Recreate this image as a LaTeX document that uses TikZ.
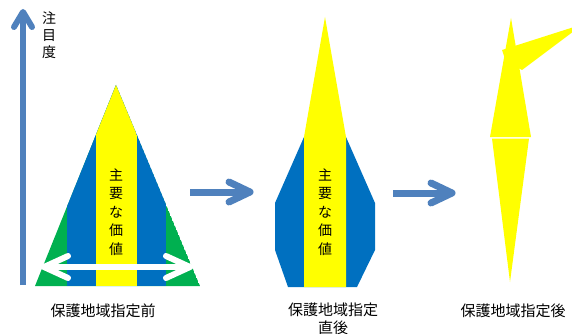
\documentclass[tikz,border=0pt]{standalone}
\usepackage{fontspec}
\newfontfamily\cjk{Noto Sans CJK JP}
\definecolor{cgreen}{HTML}{00B050}
\definecolor{cblue}{HTML}{0070C0}
\definecolor{cyellow}{HTML}{FFFF00}
\definecolor{carrow}{HTML}{4F81BD}
\tikzset{
  bluearrow/.style={draw=carrow, line width=7pt, line cap=round, line join=round},
  whitearrow/.style={draw=white, line width=6pt, line cap=round, line join=round},
  label/.style={font=\cjk\fontsize{15}{18}\selectfont, align=center, inner sep=0pt},
  vlabel/.style={font=\cjk\fontsize{14}{18.5}\selectfont, align=center, inner sep=0pt},
}
\begin{document}
\begin{tikzpicture}[x=1pt,y=-1pt]
\useasboundingbox (0,0) rectangle (572,334);
% axis
\coordinate (axb) at (23,285);
\coordinate (axt) at (23,12);
\draw[draw=carrow, line width=6pt] (axb) -- (axt);
\draw[draw=carrow, line width=6pt, line cap=round, line join=round] (14,27) -- (axt) -- (32,27);
\node[vlabel, font=\cjk\fontsize{14}{17}\selectfont] (axlab) at (49,35) {注\\目\\度};

% left triangle
\begin{scope}
\clip (35,286) -- (116,85) -- (200,286) -- cycle;
\fill[cgreen] (35,286) -- (116,85) -- (200,286) -- cycle;
\fill[cblue] (67,80) rectangle (166,286);
\fill[cyellow] (96,80) rectangle (137,286);
\end{scope}
\node[vlabel] (v1) at (116,212) {主\\要\\な\\価\\値};
% white double arrow
\coordinate (wl) at (44,267);
\coordinate (wr) at (190,267);
\draw[whitearrow] (wl) -- (wr);
\draw[whitearrow] (68,256) -- (wl) -- (68,278);
\draw[whitearrow] (166,256) -- (wr) -- (166,278);
\node[label] (l1) at (103,311) {保護地域指定前};

% arrow 1
\coordinate (a1s) at (190,192);
\coordinate (a1e) at (250,192);
\draw[bluearrow, line cap=butt] (a1s) -- (a1e);
\draw[bluearrow] (229,182) -- (a1e) -- (229,202);

% middle shape
\fill[cblue] (304,137) -- (275,203) -- (275,250) -- (288,287) -- (357,287) -- (375,250) -- (375,203) -- (346,137) -- cycle;
\fill[cyellow] (304,287) -- (304,137) -- (325,17) -- (346,137) -- (346,287) -- cycle;
\node[vlabel] (v2) at (325,212) {主\\要\\な\\価\\値};
\node[label] (l2) at (333,319) {保護地域指定\\直後};

% arrow 2
\coordinate (a2s) at (393,193);
\coordinate (a2e) at (452,193);
\draw[bluearrow, line cap=butt] (a2s) -- (a2e);
\draw[bluearrow] (431,183) -- (a2e) -- (431,203);

% right shape
\fill[cyellow] (511,18) -- (531,137) -- (490,137) -- cycle;
\fill[cyellow] (492,138.5) -- (529,138.5) -- (510,282) -- cycle;
\fill[cyellow] (502,50) -- (574,27) -- (574,31) -- (522,70) -- (506,62) -- cycle;
\node[label] (l3) at (513,311) {保護地域指定後};
\end{tikzpicture}
\end{document}
